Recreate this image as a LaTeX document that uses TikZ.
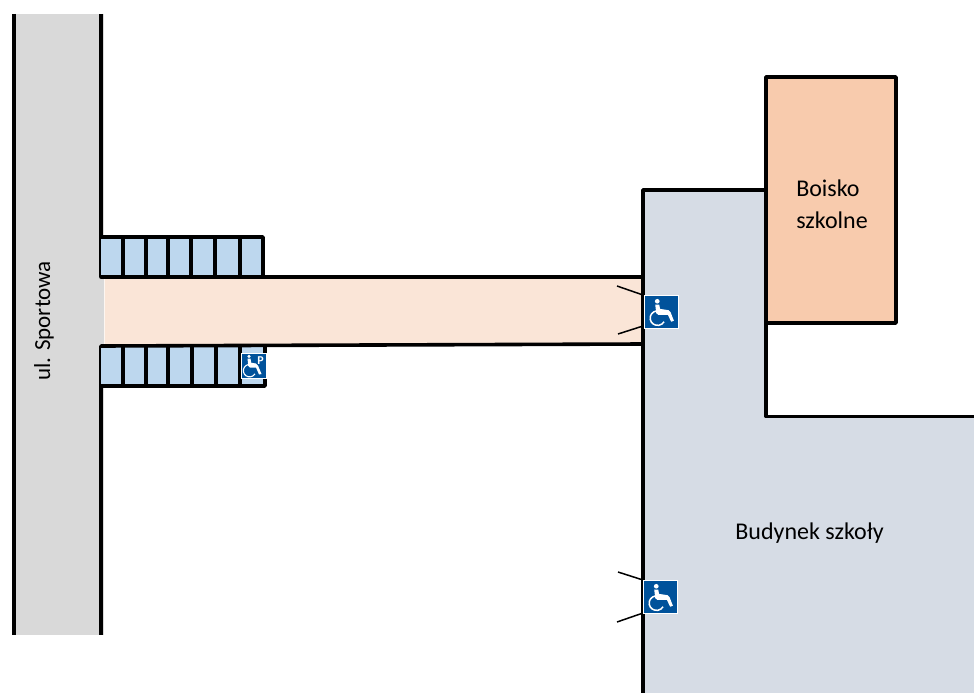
\documentclass[tikz,border=0pt]{standalone}
\usepackage{fontspec}
\setmainfont{Carlito}
\definecolor{roadgray}{HTML}{D9D9D9}
\definecolor{parkblue}{HTML}{BDD7EE}
\definecolor{pathpeach}{HTML}{FAE5D7}
\definecolor{buildblue}{HTML}{D6DCE5}
\definecolor{fieldpeach}{HTML}{F8CBAD}
\definecolor{signblue}{HTML}{00529B}
\tikzset{
  wall/.style={draw=black,line width=3.6pt,line join=round,line cap=round},
  thin wall/.style={draw=black,line width=3.6pt,line join=round,line cap=round},
  door/.style={draw=black,line width=1.5pt},
  label text/.style={font=\fontsize{24}{32}\selectfont,text=black,inner sep=0pt},
}
% #1 = left, #2 = top, #3 = width, #4 = height in px
\newcommand{\wcsign}[4]{%
  \begin{scope}[shift={(#1,#2)},x=#3pt,y=-#4pt]
    \fill[signblue] (0,0) rectangle (1,1);
    \draw[white,line width=.6pt] (0,0) rectangle (1,1);
    \fill[white] (.39,.19) circle[radius=.07];
    \fill[white] (.33,.29) -- (.45,.29) -- (.47,.42) -- (.72,.46) -- (.78,.52)
      -- (.88,.78) -- (.80,.81) -- (.70,.60) -- (.42,.60) -- (.36,.55) -- cycle;
    \draw[white,line width=1.5pt] (.362,.484) arc[start angle=-100,end angle=-330,radius=.22];
  \end{scope}}
\newcommand{\wcpsign}[4]{%
  \begin{scope}[shift={(#1,#2)},x=#3pt,y=-#4pt]
    \fill[signblue] (0,0) rectangle (1,1);
    \draw[white,line width=.6pt] (0,0) rectangle (1,1);
    \fill[white] (.32,.13) circle[radius=.07];
    \fill[white] (.26,.22) -- (.38,.22) -- (.41,.39) -- (.60,.42) -- (.68,.50)
      -- (.82,.84) -- (.72,.86) -- (.60,.58) -- (.36,.58) -- (.29,.52) -- cycle;
    \draw[white,line width=1.1pt] (.30,.46) arc[start angle=-100,end angle=-330,radius=.25];
    \node[inner sep=0pt,text=white,font=\fontsize{12}{12}\selectfont\bfseries] (psign) at (.78,.29) {P};
  \end{scope}}
\begin{document}
\begin{tikzpicture}[x=1pt,y=-1pt]
\useasboundingbox (0,0) rectangle (974,693);
% road
\fill[roadgray] (14,14) rectangle (104,635);
\draw[wall,line cap=butt] (14,14) -- (14,635);
\draw[wall,line cap=butt] (101,14) -- (101,277);
\draw[wall,line cap=butt] (101,346) -- (101,635);
% path
\fill[pathpeach] (104.5,277) -- (643,277) -- (643,344) -- (104.5,346) -- cycle;
% parking
\fill[parkblue] (101,237) rectangle (264,277);
\fill[parkblue] (101,346) rectangle (265,386);
\draw[thin wall] (101,237) -- (263,237) -- (263,277);
\foreach \x in {123,146,168,191,215,240}
  \draw[thin wall,line cap=butt] (\x,237) -- (\x,277);
\draw[thin wall] (101,386) -- (265,386) -- (265,346);
\foreach \x in {123,146,168,192,216,240}
  \draw[thin wall,line cap=butt] (\x,346) -- (\x,386);
\draw[wall] (101,277) -- (643,277);
\draw[wall] (101,346) -- (643,344);
% building
\fill[buildblue] (643,190) -- (766,190) -- (766,416) -- (974,416) -- (974,693) -- (643,693) -- cycle;
\draw[wall,line cap=butt] (643,693) -- (643,190) -- (766,190);
\draw[wall,line cap=butt] (766,190) -- (766,416.5) -- (974,416.5);
% field
\draw[wall,fill=fieldpeach] (766,77) rectangle (896,323);
% doors
\coordinate (d1a) at (617,286); \coordinate (d1b) at (643,295);
\coordinate (d2a) at (618,334); \coordinate (d2b) at (643,326);
\coordinate (d3a) at (618,572); \coordinate (d3b) at (643,580);
\coordinate (d4a) at (617,622); \coordinate (d4b) at (643,613);
\draw[door] (d1a) -- (d1b);
\draw[door] (d2a) -- (d2b);
\draw[door] (d3a) -- (d3b);
\draw[door] (d4a) -- (d4b);
% signs
\wcsign{644}{295}{34}{33}
\wcsign{643}{580}{34}{33}
\wcpsign{241}{353}{25}{25}
% labels
\node[label text,font=\fontsize{23}{32}\selectfont,rotate=90] (road) at (44,321) {ul. Sportowa};
\node[label text,align=left] (field) at (832,204.5) {Boisko\\szkolne};
\node[label text] (school) at (809.5,533) {Budynek szkoły};
\end{tikzpicture}
\end{document}
